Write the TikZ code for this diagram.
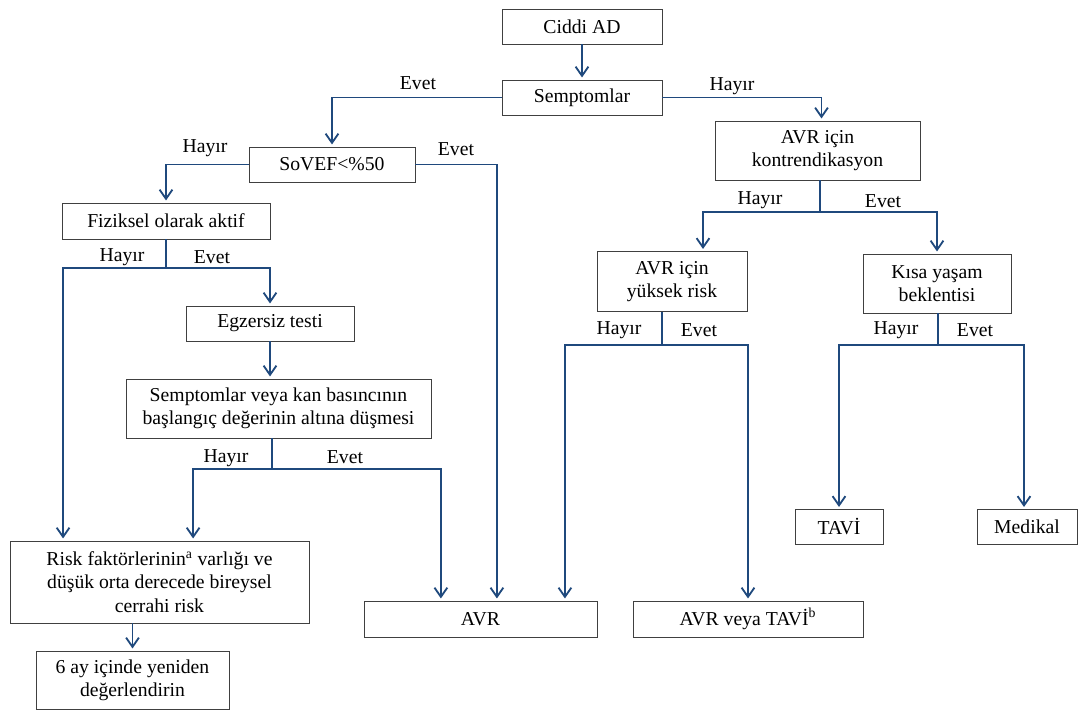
\documentclass[tikz,border=0pt]{standalone}
\usepackage{fontspec}
\setmainfont{Liberation Serif}
\usetikzlibrary{arrows.meta}
\definecolor{flowblue}{RGB}{31,73,125}
\definecolor{boxline}{RGB}{64,64,64}

\begin{document}
\begin{tikzpicture}[x=0.025cm, y=-0.025cm, font=\fontsize{14}{16.5}\selectfont,
  box/.style={draw=boxline, line width=0.6pt, align=center, inner sep=2pt, minimum height=0.875cm},
  link/.style={draw=flowblue, line width=1.3pt},
  arr/.style={link, -{Straight Barb[length=2.3mm,width=3.2mm]}, shorten >=1.5pt},
  lbl/.style={inner sep=0pt}]
  \useasboundingbox (0,0) rectangle (1078,711);

  % top
  \node[box, minimum width=4cm] (ciddi) at (582,26.5) {Ciddi AD};
  \node[box, minimum width=4cm] (semp) at (582,97.5) {Semptomlar};

  % left branch
  \node[box, minimum width=4.15cm] (sovef) at (332,164.5) {SoVEF<\%50};
  \node[box, minimum width=5.2cm, minimum height=0.9cm] (fiz) at (166,221) {Fiziksel olarak aktif};
  \node[box, minimum width=4.2cm] (egz) at (270,323.5) {Egzersiz testi};
  \node[box, minimum width=7.625cm, minimum height=1.475cm] (sbp) at (278.5,408.5)
    {Semptomlar veya kan basıncının\\başlangıç değerinin altına düşmesi};
  \node[box, minimum width=7.475cm, minimum height=2.05cm] (risk) at (159.5,582)
    {Risk faktörlerinin\textsuperscript{a} varlığı ve\\düşük orta derecede bireysel\\cerrahi risk};
  \node[box, minimum width=4.825cm, minimum height=1.45cm] (reeval) at (132.5,680)
    {6 ay içinde yeniden\\değerlendirin};
  \node[box, minimum width=5.825cm, minimum height=0.9cm] (avr) at (480.5,619) {AVR};

  % right branch
  \node[box, minimum width=5.125cm, minimum height=1.475cm] (kontr) at (817.5,150.5)
    {AVR için\\kontrendikasyon};
  \node[box, minimum width=3.75cm, minimum height=1.5cm] (yuksek) at (672,281.5)
    {AVR için\\yüksek risk};
  \node[box, minimum width=3.7cm, minimum height=1.475cm] (kisa) at (937,283.5)
    {Kısa yaşam\\beklentisi};
  \node[box, minimum width=2.2cm] (tavi) at (839,527) {TAVİ};
  \node[box, minimum width=2.5cm] (medikal) at (1027,527) {Medikal};
  \node[box, minimum width=5.75cm, minimum height=0.9cm] (avrtavi) at (748,619)
    {AVR veya TAVİ\textsuperscript{b}};

  % split points
  \coordinate (fizsplit) at (166,268);
  \coordinate (sbpsplit) at (272,469);
  \coordinate (kontrsplit) at (820,212);
  \coordinate (yukseksplit) at (662,345);
  \coordinate (kisasplit) at (938,345);

  % Ciddi AD -> Semptomlar
  \draw[arr] (ciddi) -- (semp);
  \draw[arr] (semp.west) -| (sovef.north);
  \draw[arr] (semp.east) -| ([xshift=0.1cm]kontr.north);
  \node[lbl] (evet1) at (418,83) {Evet};
  \node[lbl] (hayir1) at (732,86) {Hayır};

  % SoVEF
  \draw[arr] (sovef.west) -| (fiz.north);
  \draw[arr] (sovef.east) -| ([xshift=0.41cm]avr.north);
  \node[lbl] (hayir2) at (205,148) {Hayır};
  \node[lbl] (evet2) at (456,149) {Evet};

  % Fiziksel olarak aktif
  \draw[link] (fizsplit |- fiz.south) -- (fizsplit);
  \draw[arr] (fizsplit) -| ([xshift=-2.41cm]risk.north);
  \draw[arr] (fizsplit) -| (egz.north);
  \node[lbl] (hayir3) at (122,257) {Hayır};
  \node[lbl] (evet3) at (212,257) {Evet};

  % Egzersiz testi
  \draw[arr] (egz.south) -- (egz.south |- sbp.north);
  \draw[link] (sbpsplit |- sbp.south) -- (sbpsplit);
  \draw[arr] (sbpsplit) -| ([xshift=0.84cm]risk.north);
  \draw[arr] (sbpsplit) -| ([xshift=-0.99cm]avr.north);
  \node[lbl] (hayir4) at (226,458) {Hayır};
  \node[lbl] (evet4) at (345,457) {Evet};

  \draw[arr] (reeval.north |- risk.south) -- (reeval.north);

  % AVR icin kontrendikasyon
  \draw[link] (kontrsplit |- kontr.south) -- (kontrsplit);
  \draw[arr] (kontrsplit) -| ([xshift=0.775cm]yuksek.north);
  \draw[arr] (kontrsplit) -| (kisa.north);
  \node[lbl] (hayir5) at (760,200) {Hayır};
  \node[lbl] (evet5) at (883,201) {Evet};

  % AVR icin yuksek risk
  \draw[link] (yukseksplit |- yuksek.south) -- (yukseksplit);
  \draw[arr] (yukseksplit) -| ([xshift=2.11cm]avr.north);
  \draw[arr] (yukseksplit) -| (avrtavi.north);
  \node[lbl] (hayir6) at (619,330) {Hayır};
  \node[lbl] (evet6) at (699,330) {Evet};

  % Kisa yasam beklentisi
  \draw[link] (kisasplit |- kisa.south) -- (kisasplit);
  \draw[arr] (kisasplit) -| (tavi.north);
  \draw[arr] (kisasplit) -| ([xshift=-0.075cm]medikal.north);
  \node[lbl] (hayir7) at (896,330) {Hayır};
  \node[lbl] (evet7) at (975,330) {Evet};
\end{tikzpicture}
\end{document}
